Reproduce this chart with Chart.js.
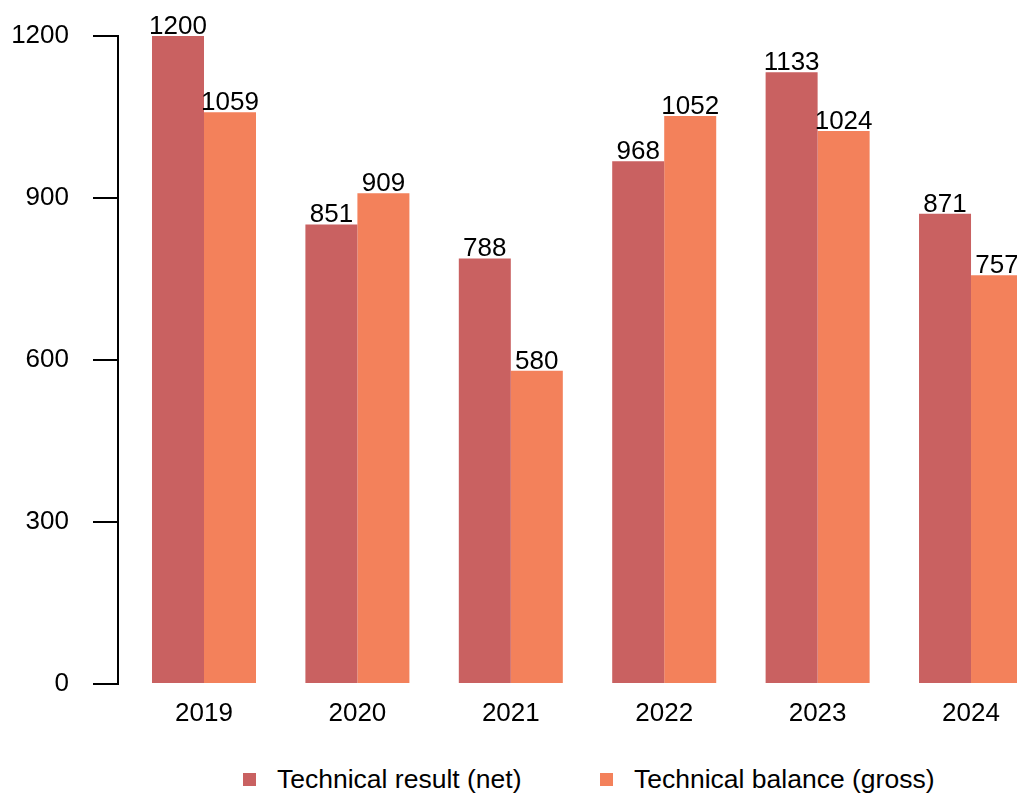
<!DOCTYPE html>
<html>
<head>
<meta charset="utf-8">
<title>Technical result and technical balance, 2019–2024</title>
<script src="https://cdn.jsdelivr.net/npm/chart.js@4/dist/chart.umd.min.js"></script>
<style>
  html, body { margin: 0; padding: 0; background: #fff; overflow: hidden; width: 1017px; height: 794px; }
  #wrap { position: absolute; left: 0; top: 0; width: 1060px; height: 740px; }
  .legend-item { position: absolute; top: 764px; height: 30px; display: flex; align-items: center;
    font-family: 'Liberation Sans', Arial, sans-serif; font-size: 26.5px; color: #000; white-space: nowrap; }
  .legend-item .swatch { width: 13px; height: 13px; margin-right: 21px; }
</style>
</head>
<body>
<div id="wrap"><canvas id="chart"></canvas></div>
<div class="legend-item" id="leg0"><span class="swatch"></span><span class="txt"></span></div>
<div class="legend-item" id="leg1"><span class="swatch"></span><span class="txt"></span></div>
<script>
// Years on the horizontal axis
const years = ['2019', '2020', '2021', '2022', '2023', '2024'];
// Technical result (net)
const technicalResultNet = [1200, 851, 788, 968, 1133, 871];
// Technical balance (gross)
const technicalBalanceGross = [1059, 909, 580, 1052, 1024, 757];
// Value axis ticks
const yTicks = [0, 300, 600, 900, 1200];

const seriesNames = ['Technical result (net)', 'Technical balance (gross)'];
const seriesColors = ['#C96161', '#F3815B'];
const FONT = "'Liberation Sans', Arial, sans-serif";
const FONT_SIZE = 26;

// Value labels drawn just above each bar
const barValueLabels = {
  id: 'barValueLabels',
  afterDatasetsDraw(chart) {
    const ctx = chart.ctx;
    ctx.save();
    ctx.font = FONT_SIZE + 'px ' + FONT;
    ctx.fillStyle = '#000';
    ctx.textAlign = 'center';
    ctx.textBaseline = 'alphabetic';
    chart.data.datasets.forEach((ds, di) => {
      const meta = chart.getDatasetMeta(di);
      meta.data.forEach((bar, i) => {
        ctx.fillText(String(ds.data[i].y), bar.x, bar.y - 2);
      });
    });
    ctx.restore();
  }
};

const toPoints = arr => arr.map((v, i) => ({ x: i, y: v }));

new Chart(document.getElementById('chart'), {
  type: 'bar',
  data: {
    datasets: [
      { label: seriesNames[0], data: toPoints(technicalResultNet), backgroundColor: seriesColors[0] },
      { label: seriesNames[1], data: toPoints(technicalBalanceGross), backgroundColor: seriesColors[1] }
    ]
  },
  options: {
    responsive: true,
    maintainAspectRatio: false,
    devicePixelRatio: 1,
    animation: false,
    categoryPercentage: 0.678,
    barPercentage: 1,
    layout: { padding: { top: 36, right: 0, bottom: 0, left: 0 } },
    plugins: {
      legend: { display: false },
      tooltip: { enabled: false }
    },
    scales: {
      x: {
        type: 'linear',
        min: -0.5606,
        max: 5.58,
        offset: false,
        grid: { display: false, drawTicks: false },
        border: { display: false },
        afterBuildTicks(scale) { scale.ticks = years.map((_, i) => ({ value: i })); },
        afterFit(scale) { scale.height = 56; },
        ticks: {
          autoSkip: false,
          maxRotation: 0,
          padding: 14,
          color: '#000',
          font: { family: FONT, size: FONT_SIZE },
          callback: v => years[v]
        }
      },
      y: {
        min: 0,
        max: 1200,
        afterBuildTicks(scale) { scale.ticks = yTicks.map(v => ({ value: v })); },
        afterFit(scale) {
          scale.width = 118;
          scale.paddingTop = 0;
          scale.paddingBottom = 0;
        },
        grid: { drawOnChartArea: false, drawTicks: true, tickLength: 25, color: '#000', lineWidth: 2 },
        border: { display: true, color: '#000', width: 2 },
        ticks: {
          padding: 24,
          color: '#000',
          font: { family: FONT, size: FONT_SIZE },
          callback: v => String(v)
        }
      }
    }
  },
  plugins: [barValueLabels]
});

// Legend below the plot
const legendLefts = [243, 600];
seriesNames.forEach((name, i) => {
  const el = document.getElementById('leg' + i);
  el.style.left = legendLefts[i] + 'px';
  el.querySelector('.swatch').style.background = seriesColors[i];
  el.querySelector('.txt').textContent = name;
});
</script>
</body>
</html>
